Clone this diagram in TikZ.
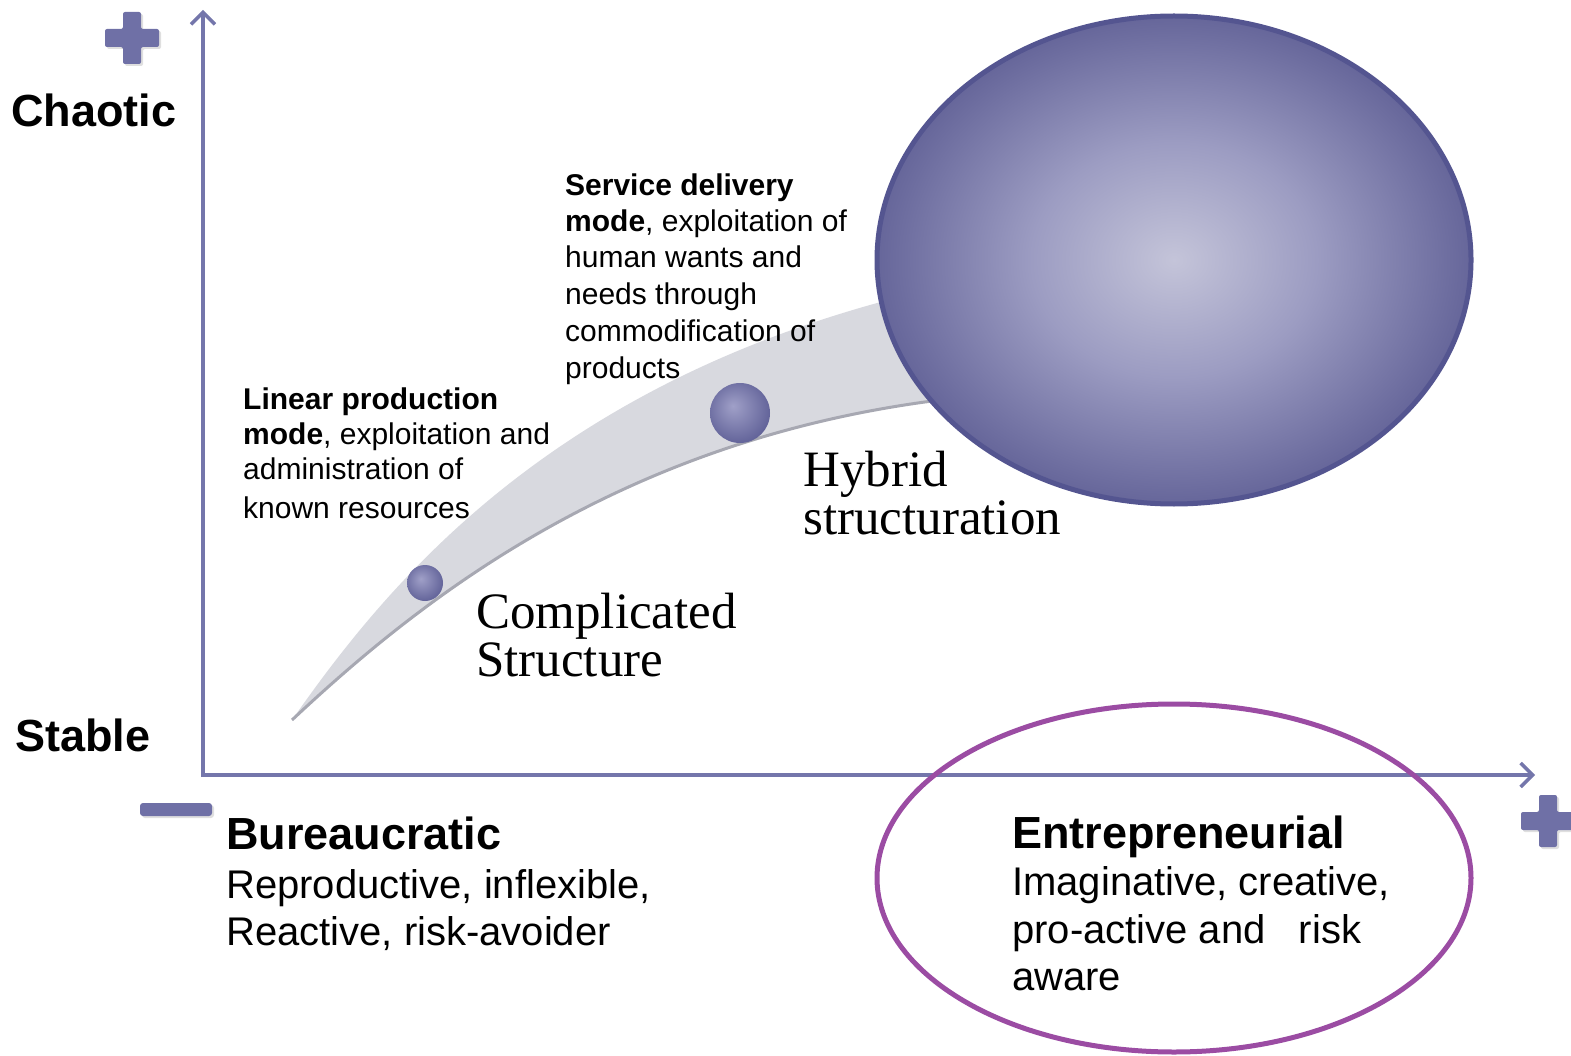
\documentclass[tikz,border=0pt]{standalone}
\usepackage{fontspec}
\setmainfont{Liberation Serif}
\setsansfont{Liberation Sans}
\usetikzlibrary{arrows.meta,shapes.geometric,shadows}
\definecolor{axisc}{HTML}{7476AB}
\definecolor{plusc}{HTML}{6F70A6}
\definecolor{bandc}{HTML}{D8D9DF}
\definecolor{bandedge}{HTML}{A7A8B2}
\definecolor{ballborder}{HTML}{545590}
\definecolor{ballin}{HTML}{C4C4D9}
\definecolor{ballmid}{HTML}{9C9CC2}
\definecolor{ballout}{HTML}{66669A}
\definecolor{sbin}{HTML}{A0A0C8}
\definecolor{sbout}{HTML}{5E5F96}
\definecolor{purp}{HTML}{9B4CA3}
\pgfdeclareradialshading{bigball}{\pgfpoint{0bp}{0bp}}{color(0bp)=(ballin); color(12bp)=(ballmid); color(25bp)=(ballout); color(50bp)=(ballout)}
\pgfdeclareradialshading{smallball}{\pgfpoint{-6bp}{6bp}}{color(0bp)=(sbin); color(30bp)=(sbout); color(50bp)=(sbout)}
\tikzset{
  axisline/.style={axisc, line width=3.5pt, -{Straight Barb[length=12pt,width=24pt,line width=3.5pt]}},
  bigsans/.style={font=\sffamily\bfseries\fontsize{45}{54}\selectfont, inner sep=0pt, anchor=base west},
  midsans/.style={font=\sffamily\fontsize{40}{48}\selectfont, inner sep=0pt, anchor=base west},
  smallsans/.style={font=\sffamily\fontsize{30}{36}\selectfont, inner sep=0pt, anchor=base west},
  serifbig/.style={font=\rmfamily\fontsize{51}{50}\selectfont, inner sep=0pt, anchor=base west},
  plussign/.pic={\fill[plusc, rounded corners=2pt, drop shadow={opacity=0.25, shadow xshift=2pt, shadow yshift=-2pt}]
     (-9,-26) -- (9,-26) -- (9,-9) -- (27,-9) -- (27,9) -- (9,9) -- (9,26) -- (-9,26) -- (-9,9) -- (-27,9) -- (-27,-9) -- (-9,-9) -- cycle;},
  smallball/.style={circle, draw=none, shading=smallball, inner sep=0pt}
}
\begin{document}
\begin{tikzpicture}[x=1pt,y=-1pt]
\useasboundingbox (0,0) rectangle (1571,1056);
% swoosh band
\fill[bandc] (292,720) .. controls (390,580) and (560,370) .. (950,285)
   -- (940,400) .. controls (620,440) and (420,600) .. (292,720) -- cycle;
\draw[bandedge, line width=3pt] (292,720) .. controls (420,600) and (620,440) .. (940,400);
% axes
\coordinate (orig) at (203,775);
\coordinate (ytip) at (203,10);
\coordinate (xtip) at (1535,775);
\coordinate (ybot) at (203,777);
\coordinate (xleft) at (201,775);
\draw[axisline] (ybot) -- (ytip);
\draw[axisline] (xleft) -- (xtip);
% plus and minus signs
\pic at (132,38) {plussign};
\pic at (1548,821) {plussign};
\fill[plusc, rounded corners=3pt, drop shadow={opacity=0.25, shadow xshift=2pt, shadow yshift=-2pt}] (140,803) rectangle (212,816);
% small balls
\node[smallball, minimum size=36pt] (ball1) at (425,583) {};
\node[smallball, minimum size=60pt] (ball2) at (740,413) {};
% big ball
\node[ellipse, draw=ballborder, line width=5pt, shading=bigball, minimum width=594pt, minimum height=488pt, inner sep=0pt] (bigball) at (1174,260) {};
% bottom ellipse
\node[ellipse, draw=purp, line width=5pt, minimum width=594pt, minimum height=348pt, inner sep=0pt] (entell) at (1174,878) {};
% axis labels
\node[bigsans] (chaotic) at (11,127) {Chaotic};
\node[bigsans] (stable) at (15,751) {Stable};
% service block
\node[smallsans] (s1) at (565,196) {\textbf{Service delivery}};
\node[smallsans] (s2) at (565,232) {\textbf{mode}, exploitation of};
\node[smallsans] (s3) at (565,268) {human wants and};
\node[smallsans] (s4) at (565,305) {needs through};
\node[smallsans] (s5) at (565,342) {commodification of};
\node[smallsans] (s6) at (565,378) {products};
% linear block
\node[smallsans] (l1) at (243,409) {\textbf{Linear production}};
\node[smallsans] (l2) at (243,444) {\textbf{mode}, exploitation and};
\node[smallsans] (l3) at (243,479) {administration of};
\node[smallsans] (l4) at (243,518) {known resources};
% serif labels
\node[serifbig] (hy1) at (803,486) {Hybrid};
\node[serifbig] (hy2) at (803,534) {structuration};
\node[serifbig] (co1) at (476,628) {Complicated};
\node[serifbig] (co2) at (476,676) {Structure};
% bureaucratic
\node[bigsans] (b1) at (226,849) {Bureaucratic};
\node[midsans] (b2) at (226,898) {Reproductive, inflexible,};
\node[midsans] (b3) at (226,945) {Reactive, risk-avoider};
% entrepreneurial
\node[bigsans] (e1) at (1012,848) {Entrepreneurial};
\node[midsans] (e2) at (1012,895) {Imaginative, creative,};
\node[midsans] (e3) at (1012,943) {pro-active and\ \ \ risk};
\node[midsans] (e4) at (1012,990) {aware};
\end{tikzpicture}
\end{document}
